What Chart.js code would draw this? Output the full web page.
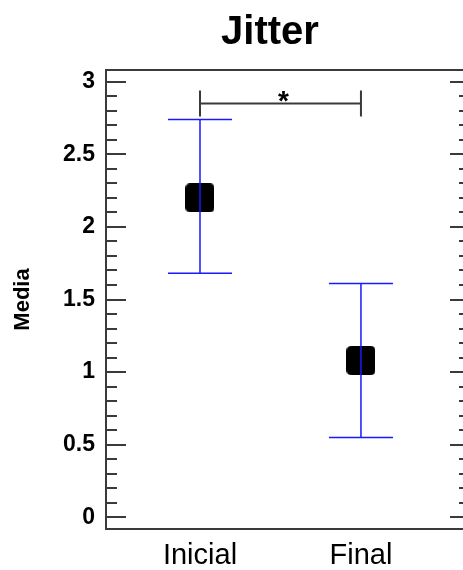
<!DOCTYPE html>
<html><head><meta charset="utf-8">
<script src="https://cdn.jsdelivr.net/npm/chart.js@4.4.1/dist/chart.umd.min.js"></script>
<style>
html,body{margin:0;padding:0;background:#fff;overflow:hidden}
canvas{display:block}
</style></head>
<body><canvas id="c" width="463" height="570"></canvas>
<script>
const categories = ['Inicial', 'Final'];
const means = [2.2, 1.08];
const lowerBounds = [1.68, 0.55];
const upperBounds = [2.74, 1.61];
const yTickValues = [0, 0.5, 1, 1.5, 2, 2.5, 3];
const yMinorTickValues = [0.1,0.2,0.3,0.4,0.6,0.7,0.8,0.9,1.1,1.2,1.3,1.4,1.6,1.7,1.8,1.9,2.1,2.2,2.3,2.4,2.6,2.7,2.8,2.9];
const sigLevel = 2.85;
const sigLabel = '*';
const chartTitle = 'Jitter';
const yAxisTitle = 'Media';

const FONT = "'Liberation Sans', Arial, sans-serif";

// rounded-square marker
const marker = document.createElement('canvas');
marker.width = 29; marker.height = 29;
(function(){
  const m = marker.getContext('2d');
  const r = 5, w = 29, h = 29;
  m.fillStyle = '#000';
  m.beginPath();
  m.moveTo(r,0); m.lineTo(w-r,0); m.quadraticCurveTo(w,0,w,r);
  m.lineTo(w,h-r); m.quadraticCurveTo(w,h,w-r,h);
  m.lineTo(r,h); m.quadraticCurveTo(0,h,0,h-r);
  m.lineTo(0,r); m.quadraticCurveTo(0,0,r,0);
  m.closePath(); m.fill();
})();

// stretch the plot area to the right edge of the canvas after layout
const fitPlugin = {
  id: 'fitArea',
  afterLayout(chart) {
    const a = chart.chartArea, x = chart.scales.x;
    a.right = chart.width;
    a.width = a.right - a.left;
    x.right = chart.width;
    x.width = x.right - x.left;
    x.configure();
  }
};

const framePlugin = {
  id: 'frame',
  beforeDatasetsDraw(chart) {
    const {ctx, chartArea: a, scales: {y}} = chart;
    const right = a.right + 7; // frame's right side sits just past the visible edge
    ctx.save();
    ctx.strokeStyle = '#3a3a3a';
    ctx.lineWidth = 2;
    ctx.strokeRect(a.left, a.top, right - a.left, a.bottom - a.top);
    ctx.beginPath();
    yTickValues.forEach(v => {
      const py = Math.round(y.getPixelForValue(v));
      ctx.moveTo(a.left, py); ctx.lineTo(a.left + 20, py);
      ctx.moveTo(right, py); ctx.lineTo(right - 20, py);
    });
    yMinorTickValues.forEach(v => {
      const py = Math.round(y.getPixelForValue(v));
      ctx.moveTo(a.left, py); ctx.lineTo(a.left + 11, py);
      ctx.moveTo(right, py); ctx.lineTo(right - 11, py);
    });
    ctx.stroke();
    ctx.restore();
  }
};

const errorPlugin = {
  id: 'errbars',
  afterDatasetsDraw(chart) {
    const {ctx, scales: {x, y}} = chart;
    ctx.save();
    ctx.strokeStyle = 'rgb(25,25,255)';
    ctx.lineWidth = 1.5;
    categories.forEach((c, i) => {
      const px = x.getPixelForValue(i);
      const lo = y.getPixelForValue(lowerBounds[i]);
      const hi = y.getPixelForValue(upperBounds[i]);
      ctx.beginPath();
      ctx.moveTo(px, lo); ctx.lineTo(px, hi);
      ctx.moveTo(px - 32, lo); ctx.lineTo(px + 32, lo);
      ctx.moveTo(px - 32, hi); ctx.lineTo(px + 32, hi);
      ctx.stroke();
    });
    // significance bracket
    const x0 = x.getPixelForValue(0), x1 = x.getPixelForValue(1);
    const py = y.getPixelForValue(sigLevel);
    ctx.strokeStyle = '#3a3a3a';
    ctx.lineWidth = 2;
    ctx.beginPath();
    ctx.moveTo(x0, py); ctx.lineTo(x1, py);
    ctx.moveTo(x0, py - 13); ctx.lineTo(x0, py + 13);
    ctx.moveTo(x1, py - 13); ctx.lineTo(x1, py + 13);
    ctx.stroke();
    ctx.fillStyle = '#000';
    ctx.font = 'bold 28px ' + FONT;
    ctx.textAlign = 'center';
    ctx.textBaseline = 'alphabetic';
    ctx.fillText(sigLabel, (x0 + x1) / 2 + 3, py + 7);
    ctx.restore();
  }
};

const textPlugin = {
  id: 'texts',
  afterDraw(chart) {
    const {ctx, chartArea: a, scales: {x}} = chart;
    ctx.save();
    ctx.fillStyle = '#000';
    ctx.textAlign = 'center';
    ctx.textBaseline = 'alphabetic';
    ctx.font = 'bold 40px ' + FONT;
    ctx.fillText(chartTitle, 270, 44);
    ctx.font = '29px ' + FONT;
    categories.forEach((c, i) => {
      ctx.fillText(c, x.getPixelForValue(i), a.bottom + 35);
    });
    ctx.restore();
  }
};

new Chart(document.getElementById('c'), {
  type: 'scatter',
  data: {
    datasets: [{
      data: categories.map((c, i) => ({x: i, y: means[i]})),
      pointStyle: marker,
      pointRadius: 14,
      pointHoverRadius: 14,
      backgroundColor: '#000',
      borderColor: '#000'
    }]
  },
  options: {
    responsive: false,
    animation: false,
    events: [],
    layout: {padding: {top: 70, right: 0, left: 0, bottom: 0}},
    plugins: {legend: {display: false}, tooltip: {enabled: false}, title: {display: false}},
    scales: {
      x: {
        type: 'linear', min: -0.584, max: 1.634,
        grid: {display: false, drawTicks: false},
        border: {display: false},
        afterBuildTicks: s => { s.ticks = categories.map((c, i) => ({value: i})); },
        ticks: {display: false},
        afterFit: s => { s.height = 41; }
      },
      y: {
        min: -0.08, max: 3.08,
        grid: {display: false, drawTicks: false},
        border: {display: false},
        afterBuildTicks: s => { s.ticks = yTickValues.map(v => ({value: v})); },
        ticks: {callback: v => String(v), font: {family: FONT, size: 23, weight: 'bold'}, color: '#000', padding: 11},
        title: {display: true, text: yAxisTitle, font: {family: FONT, size: 22, weight: 'bold'}, color: '#000', padding: {top: 10, bottom: 0}},
        afterFit: s => { s.width = 106; }
      }
    }
  },
  plugins: [fitPlugin, framePlugin, errorPlugin, textPlugin]
});
</script>
</body></html>
